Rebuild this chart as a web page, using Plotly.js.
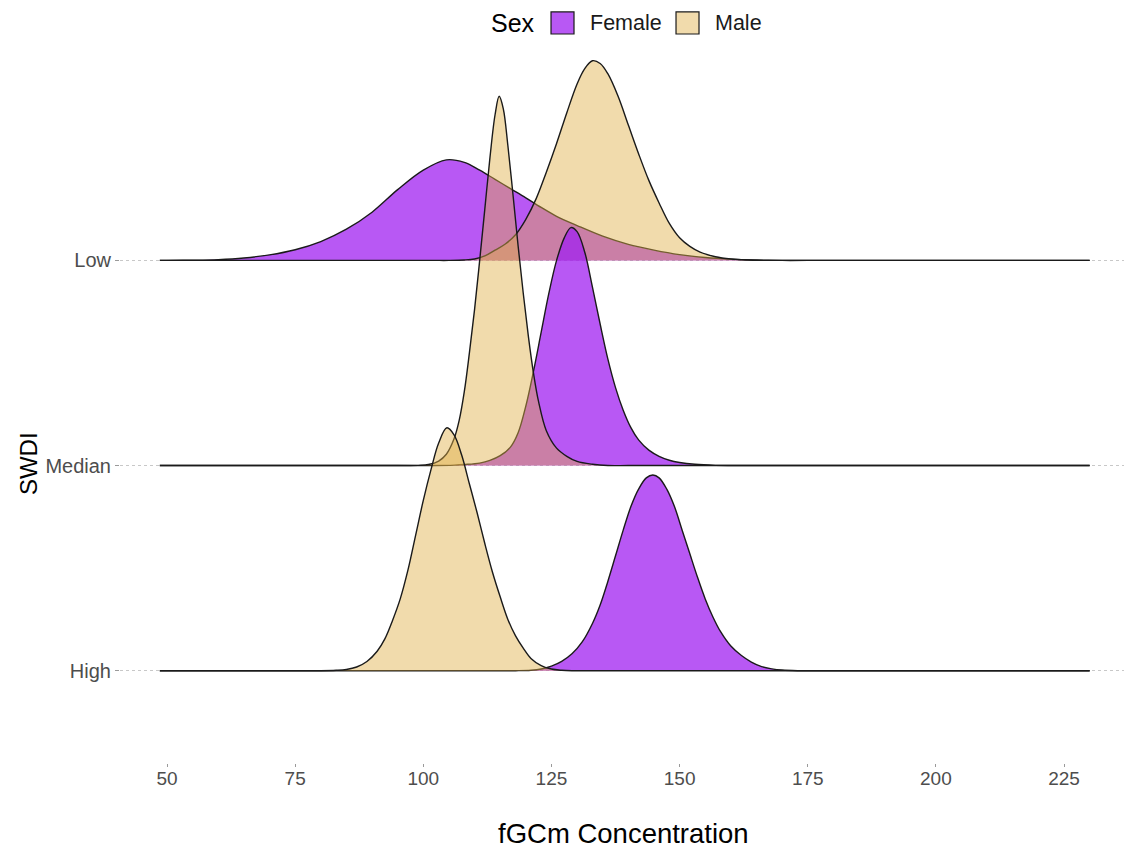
<!DOCTYPE html>
<html>
<head>
<meta charset="utf-8">
<script src="https://cdn.plot.ly/plotly-3.0.1.min.js"></script>
<style>html,body{margin:0;padding:0;background:#fff;}#chart{width:1124px;height:848px;}</style>
</head>
<body>
<div id="chart"></div>
<script>
// Ridge categories (bottom to top) and tick labels
const ridgeLevels = ['High', 'Median', 'Low'];
const sexes = ['Female', 'Male'];
const xTickVals = [50, 75, 100, 125, 150, 175, 200, 225];

// Density heights (x = fGCm concentration, h = ridge height in row units)
const lowFemaleX = [48.6, 50, 55, 60, 65, 70, 75, 80, 85, 90, 95, 100, 104.5, 108, 111, 114, 117, 120, 123, 126, 130, 135, 140, 145, 150, 155, 160, 165, 170, 175, 185, 230];
const lowFemaleH = [0, 0, 0.001, 0.004, 0.012, 0.027, 0.052, 0.092, 0.152, 0.235, 0.345, 0.44, 0.49, 0.478, 0.44, 0.395, 0.35, 0.305, 0.258, 0.215, 0.17, 0.118, 0.078, 0.05, 0.028, 0.014, 0.006, 0.002, 0, 0, 0, 0];

const lowMaleX = [48.6, 95, 102, 105, 108, 110, 112, 114, 116, 118, 120, 122, 124, 126, 128, 130, 131.5, 133, 134.5, 136, 138, 140, 142, 144, 146, 148, 150, 152, 154, 157, 160, 163, 167, 172, 180, 230];
const lowMaleH = [0, 0, 0, 0, 0.002, 0.007, 0.022, 0.05, 0.08, 0.125, 0.2, 0.3, 0.43, 0.57, 0.72, 0.86, 0.935, 0.973, 0.96, 0.91, 0.8, 0.66, 0.52, 0.39, 0.28, 0.18, 0.11, 0.068, 0.04, 0.018, 0.007, 0.002, 0, 0, 0, 0];

const medianFemaleX = [48.6, 95, 102, 106, 108, 111, 113, 115, 117, 118.5, 120, 121.5, 123, 124.5, 126, 127.5, 128.8, 130, 131.5, 133, 134.5, 136, 137.5, 139, 140.5, 142, 144, 146, 148, 150, 153, 157, 160, 165, 175, 230];
const medianFemaleH = [0, 0, 0, 0.002, 0.005, 0.012, 0.025, 0.048, 0.09, 0.16, 0.29, 0.46, 0.65, 0.84, 1.0, 1.11, 1.16, 1.14, 1.04, 0.87, 0.69, 0.52, 0.38, 0.27, 0.185, 0.125, 0.075, 0.045, 0.026, 0.015, 0.006, 0.001, 0, 0, 0, 0];

const medianMaleX = [48.6, 90, 96, 99, 101, 103, 104.5, 106, 107, 108, 109, 110, 111, 112, 113, 114, 114.8, 115.6, 116.5, 117.5, 118.5, 119.5, 120.5, 121.5, 122.5, 124, 126, 128, 130, 133, 136, 140, 150, 230];
const medianMaleH = [0, 0, 0, 0.001, 0.005, 0.022, 0.055, 0.13, 0.22, 0.36, 0.55, 0.76, 1.0, 1.25, 1.5, 1.71, 1.80, 1.74, 1.56, 1.32, 1.07, 0.84, 0.63, 0.45, 0.31, 0.17, 0.085, 0.045, 0.02, 0.006, 0, 0, 0, 0];

const highFemaleX = [48.6, 105, 113, 118, 121, 123, 125, 127, 129, 131, 133, 134.5, 136, 137.5, 139, 140.5, 142, 143.5, 144.8, 146, 147.5, 149, 150.5, 152, 153.5, 155, 156.5, 158, 160, 162, 164, 166, 168, 170, 173, 178, 190, 230];
const highFemaleH = [0, 0, 0, 0, 0.002, 0.008, 0.022, 0.045, 0.082, 0.14, 0.23, 0.32, 0.435, 0.56, 0.685, 0.8, 0.885, 0.94, 0.954, 0.94, 0.885, 0.8, 0.685, 0.57, 0.455, 0.35, 0.262, 0.19, 0.12, 0.075, 0.042, 0.02, 0.009, 0.003, 0, 0, 0, 0];

const highMaleX = [48.6, 70, 77, 80, 83, 85, 87, 89, 91, 92.5, 94, 95.5, 97, 98.5, 100, 101.5, 103, 104.6, 106, 107.5, 109, 110.5, 112, 113.5, 115, 116.5, 118, 119.5, 121, 123, 125, 127, 129, 133, 140, 230];
const highMaleH = [0, 0, 0, 0, 0.002, 0.006, 0.018, 0.045, 0.095, 0.155, 0.245, 0.35, 0.49, 0.66, 0.83, 0.98, 1.11, 1.184, 1.15, 1.05, 0.91, 0.77, 0.62, 0.48, 0.36, 0.25, 0.17, 0.11, 0.06, 0.025, 0.008, 0.002, 0, 0, 0, 0];

const curves = {
  Low:    {Female: [lowFemaleX, lowFemaleH],       Male: [lowMaleX, lowMaleH]},
  Median: {Female: [medianFemaleX, medianFemaleH], Male: [medianMaleX, medianMaleH]},
  High:   {Female: [highFemaleX, highFemaleH],     Male: [highMaleX, highMaleH]}
};

const fillColors = {Female: 'rgba(160,32,240,0.75)', Male: 'rgba(225,175,70,0.45)'};
const lineColor = '#1a1a1a';

// draw back (Low) to front (High); Female then Male in each ridge
const traces = [];
['Low', 'Median', 'High'].forEach(level => {
  const base = ridgeLevels.indexOf(level) + 1;
  sexes.forEach(sex => {
    const xs = curves[level][sex][0];
    const hs = curves[level][sex][1];
    traces.push({
      type: 'scatter', mode: 'lines',
      x: xs, y: hs.map(h => base + h),
      fill: 'toself', fillcolor: fillColors[sex],
      line: {color: lineColor, width: 1.4, shape: 'spline', smoothing: 1},
      name: sex, showlegend: false, hoverinfo: 'skip'
    });
  });
});

// legend drawn as shapes + annotations (square keys like ggplot)
const legendKeys = [
  {label: 'Female', x0: 0.4293, x1: 0.4522, tx: 0.4661},
  {label: 'Male',   x0: 0.5538, x1: 0.5767, tx: 0.5906}
];
const shapes = legendKeys.map(k => ({
  type: 'rect', xref: 'paper', yref: 'paper',
  x0: k.x0, x1: k.x1, y0: 1.0153, y1: 1.0460,
  fillcolor: fillColors[k.label], line: {color: lineColor, width: 1.2}
}));
const annotations = [
  {text: 'Sex', xref: 'paper', yref: 'paper', x: 0.3914, y: 1.0306, xanchor: 'center', yanchor: 'middle',
   showarrow: false, font: {size: 25, color: '#000'}},
  {text: 'fGCm Concentration', xref: 'paper', yref: 'paper', x: 0.501, y: -0.0975, xanchor: 'center', yanchor: 'middle',
   showarrow: false, font: {size: 27.5, color: '#000'}},
  {text: 'SWDI', xref: 'paper', yref: 'paper', x: -0.0916, y: 0.4164, xanchor: 'center', yanchor: 'middle',
   textangle: -90, showarrow: false, font: {size: 24, color: '#000'}}
].concat(legendKeys.map(k => ({
  text: k.label, xref: 'paper', yref: 'paper', x: k.tx, y: 1.0306, xanchor: 'left', yanchor: 'middle',
  showarrow: false, font: {size: 21.5, color: '#1a1a1a'}
})));

const layout = {
  width: 1124, height: 848,
  paper_bgcolor: '#ffffff', plot_bgcolor: '#ffffff',
  font: {family: 'Liberation Sans, Arial, sans-serif', color: '#000'},
  margin: {l: 120, r: 0, t: 45, b: 85},
  showlegend: false,
  shapes: shapes,
  annotations: annotations,
  xaxis: {
    range: [40.83, 236.70],
    tickvals: xTickVals,
    ticks: 'outside', ticklen: 3, tickcolor: '#9a9a9a', tickwidth: 1,
    ticklabelstandoff: -5,
    tickfont: {size: 19, color: '#4d4d4d'},
    showgrid: false, zeroline: false, showline: false
  },
  yaxis: {
    range: [0.55, 4.05],
    tickvals: [1, 2, 3], ticktext: ridgeLevels,
    ticks: 'outside', ticklen: 4, tickcolor: '#9a9a9a', tickwidth: 1,
    tickfont: {size: 20, color: '#4d4d4d'},
    showgrid: true, gridcolor: '#c8c8c8', griddash: 'dot', gridwidth: 1,
    zeroline: false, showline: false
  }
};

Plotly.newPlot('chart', traces, layout, {displayModeBar: false, staticPlot: true});
</script>
</body>
</html>
